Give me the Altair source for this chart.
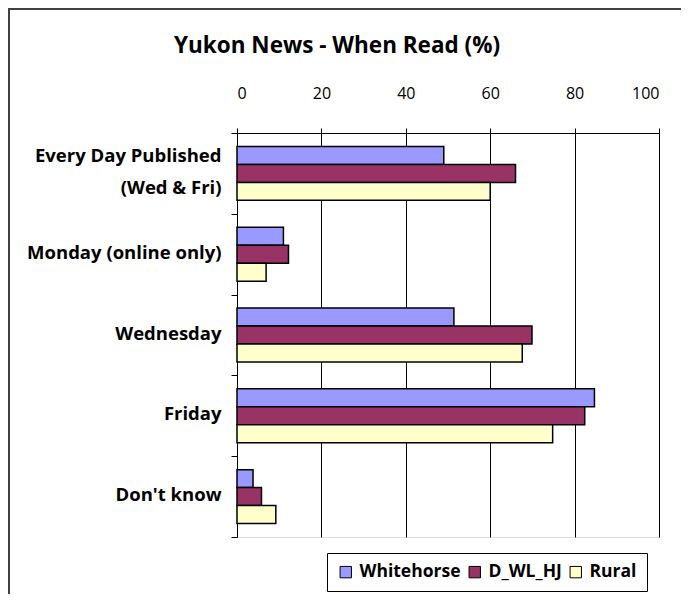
import altair as alt
import pandas as pd

title_text = "Yukon News - When Read (%)"
categories = ["Every Day Published|(Wed & Fri)", "Monday (online only)", "Wednesday", "Friday", "Don't know"]
series = ["Whitehorse", "D_WL_HJ", "Rural"]
whitehorse = [49, 11, 51.4, 84.7, 3.8]
dwlhj = [66, 12.2, 69.9, 82.4, 5.8]
rural = [60, 6.9, 67.6, 74.8, 9.2]
colors = ["#9999FF", "#993366", "#FFFFCC"]
x_ticks = [0, 20, 40, 60, 80, 100]

rows = []
for i, c in enumerate(categories):
    for s, vals in zip(series, [whitehorse, dwlhj, rural]):
        rows.append({"category": c, "series": s, "value": vals[i]})
df = pd.DataFrame(rows)

FONT = "Open Sans"
ZWSP = "\u200b"

label_expr = (
    "indexof(datum.label, '|') >= 0 ? "
    f"[split(datum.label, '|')[0], '{ZWSP}', split(datum.label, '|')[1]] : "
    f"['{ZWSP}', datum.label]"
)

bars = alt.Chart(df).mark_bar(stroke="black", strokeWidth=1.5).encode(
    x=alt.X(
        "value:Q",
        scale=alt.Scale(domain=[0, 100], nice=False),
        axis=alt.Axis(
            orient="top", values=x_ticks, title=None, grid=True,
            gridColor="black", gridWidth=1, gridOpacity=1,
            domainColor="black", tickColor="black", tickSize=5,
            labelPadding=30, labelBaseline="alphabetic",
            labelFont=FONT, labelFontSize=16, labelColor="black",
        ),
    ),
    y=alt.Y(
        "category:N", sort=categories,
        scale=alt.Scale(paddingInner=0, paddingOuter=0),
        axis=alt.Axis(
            title=None, tickBand="extent", domainColor="black",
            tickColor="black", tickSize=6, labelPadding=10,
            labelExpr=label_expr, labelLineHeight=16, labelOffset=-18,
            labelOverlap=False,
            labelFont=FONT, labelFontWeight="bold", labelFontSize=18.5,
            labelColor="black", labelLimit=300,
        ),
    ),
    yOffset=alt.YOffset("series:N", sort=series,
                        scale=alt.Scale(domain=series, paddingInner=0, paddingOuter=0.75)),
    fill=alt.Fill(
        "series:N",
        scale=alt.Scale(domain=series, range=colors),
        legend=alt.Legend(
            orient="none", legendX=90, legendY=420, direction="horizontal",
            title=None, strokeColor="black", fillColor="white", padding=10,
            symbolType="square", symbolSize=130, symbolStrokeColor="black",
            symbolStrokeWidth=1, labelFont=FONT, labelFontSize=17.5,
            labelFontWeight="bold", labelColor="black", columnPadding=5,
            labelOffset=5,
        ),
    ),
)

tsrc = pd.DataFrame({"t": [title_text]})
title = alt.Chart(tsrc).mark_text(
    font=FONT, fontSize=22.5, fontWeight="bold", color="black",
    align="left", baseline="alphabetic",
).encode(text="t:N", x=alt.value(-63), y=alt.value(-80))

fsrc = pd.DataFrame({"a": [0]})
frame_left = alt.Chart(fsrc).mark_rule(color="#404040", strokeWidth=2).encode(
    x=alt.value(-228), y=alt.value(-125), y2=alt.value(461)
)
frame_top = alt.Chart(fsrc).mark_rule(color="#404040", strokeWidth=2).encode(
    x=alt.value(-229), x2=alt.value(444), y=alt.value(-124)
)

chart = alt.layer(bars, title, frame_left, frame_top).properties(
    width=422,
    height=404,
    autosize=alt.AutoSizeParams(type="none"),
    padding={"left": 229, "top": 125, "right": 22, "bottom": 57},
).configure_view(stroke=None).configure(background="white")

chart.save("out.html", embed_options={"renderer": "svg", "actions": False})
